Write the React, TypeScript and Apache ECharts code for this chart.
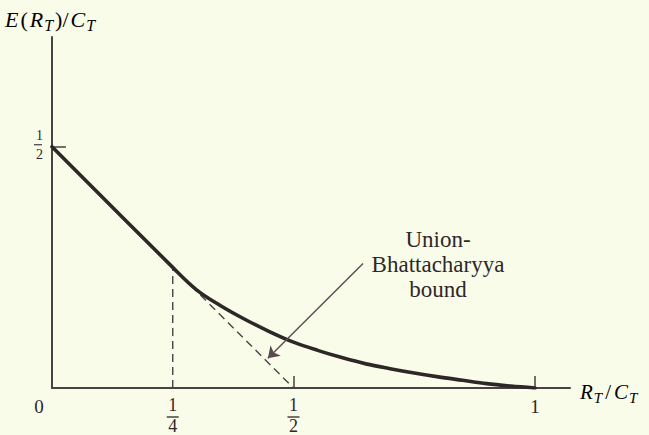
import React, { useEffect, useRef } from "react";
import * as echarts from "echarts";

// Normalised rate R_T/C_T and exponent E(R_T)/C_T along the bound
const rateValues = [0, 0.25, 0.3, 0.35, 0.4, 0.45, 0.5, 0.55, 0.6, 0.65, 0.7, 0.75, 0.8, 0.85, 0.9, 0.95, 1.0];
const exponentValues = [0.5, 0.25, 0.203, 0.17, 0.142, 0.117, 0.095, 0.078, 0.063, 0.05, 0.04, 0.031, 0.023, 0.016, 0.009, 0.004, 0];

// Straight-line (union-Bhattacharyya) continuation from R = 1/4 down to R = 1/2
const boundRates = [0.25, 0.5];
const boundExponents = [0.25, 0];

// Drop line at R = 1/4
const dropRates = [0.25, 0.25];
const dropExponents = [0, 0.25];

// Arrow from the annotation to the straight-line bound
const arrowFrom = [0.644, 0.258];
const arrowTo = [0.447, 0.0615];

const xTickValues = [0.5, 1];
const xLabelValues = [0, 0.25, 0.5, 1];
const yLabelValues = [0.5];
const fractionLabels: Record<string, [string, string]> = {
  "0.25": ["1", "4"],
  "0.5": ["1", "2"],
};

const annotationText = "Union-\nBhattacharyya\nbound";

const INK = "#2e2727";
const AXIS = "#4a4242";
const SERIF = "'Liberation Serif', 'DejaVu Serif', serif";

export default function App() {
  const ref = useRef<HTMLDivElement>(null);

  useEffect(() => {
    if (!ref.current) return;
    const chart = echarts.init(ref.current, undefined, { renderer: "svg" });

    const curveData = rateValues.map((r, i) => [r, exponentValues[i]]);
    const boundData = boundRates.map((r, i) => [r, boundExponents[i]]);
    const dropData = dropRates.map((r, i) => [r, dropExponents[i]]);

    // numerator / denominator stacked, the fraction bar is drawn separately
    const fracRich = (size: number, numLh: number, denLh: number) => ({
      num: { fontSize: size, fontFamily: SERIF, color: INK, lineHeight: numLh, align: "center" },
      den: { fontSize: size, fontFamily: SERIF, color: INK, lineHeight: denLh, align: "center" },
      zero: { fontSize: 19, fontFamily: SERIF, color: INK, padding: [0, 26, 0, 0] },
      one: { fontSize: 19, fontFamily: SERIF, color: INK },
    });

    const fmt = (v: number) => {
      const f = fractionLabels[String(v)];
      if (f) return `{num|${f[0]}}\n{den|${f[1]}}`;
      if (v === 0) return "{zero|0}";
      return `{one|${v}}`;
    };

    const baseGraphics: any[] = [
      {
        id: "yName",
        type: "text",
        left: 4,
        top: 8,
        style: {
          text: "{i|E}{p|(}{i|R}{s|T}{p|)/}{i|C}{s|T}",
          rich: {
            i: { fontSize: 22, fontStyle: "italic", fontFamily: SERIF, color: INK, lineHeight: 24, verticalAlign: "top", padding: [0, 1, 0, 1] },
            p: { fontSize: 22, fontFamily: SERIF, color: INK, lineHeight: 24, verticalAlign: "top", padding: [0, 1, 0, 1] },
            s: { fontSize: 16, fontStyle: "italic", fontFamily: SERIF, color: INK, lineHeight: 24, verticalAlign: "top", padding: [9, 1, 0, 0] },
          },
        },
      },
      {
        id: "xName",
        type: "text",
        left: 579,
        top: 381,
        style: {
          text: "{i|R}{s|T}{p|/}{i|C}{s|T}",
          rich: {
            i: { fontSize: 21, fontStyle: "italic", fontFamily: SERIF, color: INK, lineHeight: 24, verticalAlign: "top", padding: [0, 1, 0, 1] },
            p: { fontSize: 21, fontFamily: SERIF, color: INK, lineHeight: 24, verticalAlign: "top", padding: [0, 2, 0, 2] },
            s: { fontSize: 15, fontStyle: "italic", fontFamily: SERIF, color: INK, lineHeight: 24, verticalAlign: "top", padding: [9, 1, 0, 0] },
          },
        },
      },
      {
        id: "note",
        type: "text",
        x: 438,
        y: 227,
        style: {
          text: annotationText,
          fontSize: 23,
          fontFamily: SERIF,
          fill: INK,
          align: "center",
          verticalAlign: "top",
          lineHeight: 25,
        },
      },
    ];

    chart.setOption({
      animation: false,
      backgroundColor: "#fafcea",
      grid: { left: 52, right: 79, top: 37, bottom: 43 },
      xAxis: {
        type: "value",
        min: 0,
        max: 1.0725,
        splitLine: { show: false },
        axisLine: { show: true, onZero: false, lineStyle: { color: AXIS, width: 2 } },
        axisTick: {
          show: true,
          inside: true,
          length: 12,
          customValues: xTickValues,
          lineStyle: { color: AXIS, width: 1.5 },
        },
        axisLabel: {
          show: true,
          customValues: xLabelValues,
          margin: 9,
          formatter: fmt,
          rich: fracRich(18, 16, 26),
        },
      },
      yAxis: {
        type: "value",
        min: 0,
        max: 0.7275,
        splitLine: { show: false },
        axisLine: { show: true, onZero: false, lineStyle: { color: AXIS, width: 2 } },
        axisTick: {
          show: true,
          inside: true,
          length: 14,
          customValues: yLabelValues,
          lineStyle: { color: AXIS, width: 1.5 },
        },
        axisLabel: {
          show: true,
          customValues: yLabelValues,
          margin: 9,
          formatter: fmt,
          rich: fracRich(14, 16, 23),
        },
      },
      series: [
        {
          type: "line",
          data: dropData,
          symbol: "none",
          silent: true,
          z: 1,
          lineStyle: { color: AXIS, width: 1.4, type: [8, 5] },
        },
        {
          type: "line",
          data: boundData,
          symbol: "none",
          silent: true,
          z: 1,
          lineStyle: { color: AXIS, width: 1.4, type: [8, 5] },
          markLine: {
            silent: true,
            symbol: ["none", "arrow"],
            symbolSize: 11,
            label: { show: false },
            lineStyle: { color: "#5a4a52", width: 1.4, type: "solid" },
            data: [[{ coord: arrowFrom }, { coord: arrowTo }]],
          },
        },
        {
          type: "line",
          data: curveData,
          symbol: "none",
          smooth: 0.35,
          silent: true,
          z: 3,
          lineStyle: { color: INK, width: 3.6, cap: "round" },
        },
      ],
      graphic: baseGraphics,
    });

    // Fraction bars, placed at the label positions of the axes
    const bars: any[] = [];
    const origin = chart.convertToPixel({ gridIndex: 0 }, [0, 0]) as number[];
    xLabelValues.forEach((v) => {
      if (!fractionLabels[String(v)]) return;
      const p = chart.convertToPixel({ gridIndex: 0 }, [v, 0]) as number[];
      bars.push({
        id: `xbar${v}`,
        type: "line",
        shape: { x1: p[0] - 6, y1: origin[1] + 29, x2: p[0] + 6, y2: origin[1] + 29 },
        style: { stroke: INK, lineWidth: 1.3 },
        silent: true,
      });
    });
    yLabelValues.forEach((v) => {
      if (!fractionLabels[String(v)]) return;
      const p = chart.convertToPixel({ gridIndex: 0 }, [0, v]) as number[];
      bars.push({
        id: `ybar${v}`,
        type: "line",
        shape: { x1: origin[0] - 18, y1: p[1] - 2, x2: origin[0] - 10, y2: p[1] - 2 },
        style: { stroke: INK, lineWidth: 1.1 },
        silent: true,
      });
    });
    chart.setOption({ graphic: [...baseGraphics, ...bars] });

    return () => chart.dispose();
  }, []);

  return (
    <div
      ref={ref}
      style={{ position: "fixed", left: 0, top: 0, width: 649, height: 435 }}
    />
  );
}
